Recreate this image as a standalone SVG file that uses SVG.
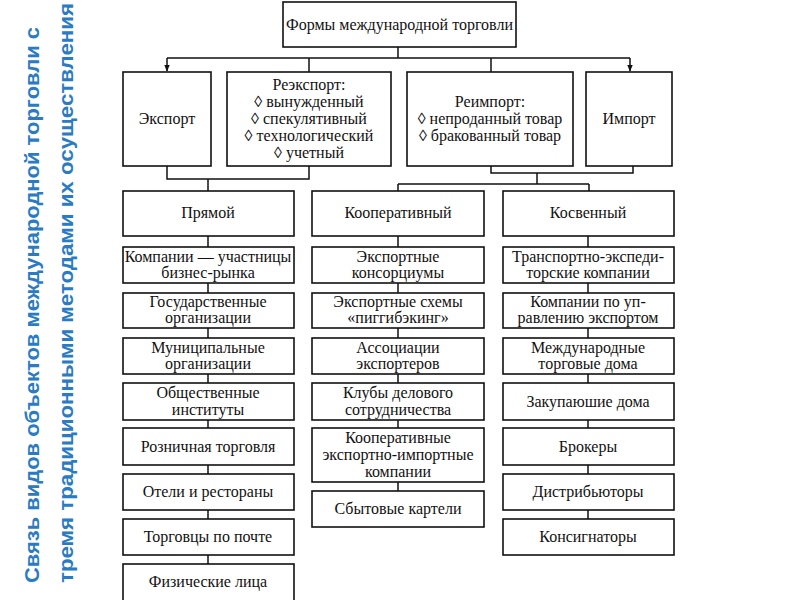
<svg xmlns="http://www.w3.org/2000/svg" width="800" height="600" viewBox="0 0 800 600">
<style>
.box{fill:#fff;stroke:#111;stroke-width:1.6}
.t{font-family:"Liberation Serif","Times New Roman",serif;font-size:16px;fill:#111;text-anchor:middle}
.c{fill:none;stroke:#111;stroke-width:1.5}
.title{font-family:"Liberation Sans",Arial,sans-serif;font-size:21px;font-weight:bold;fill:#2a7bc4}
</style>
<defs>
<marker id="arr" viewBox="0 0 10 10" refX="9" refY="5" markerWidth="7" markerHeight="7" orient="auto" markerUnits="userSpaceOnUse">
<path d="M0,1 L10,5 L0,9 z" fill="#111"/>
</marker>
</defs>
<rect width="800" height="600" fill="#fff"/>
<g id="title">
<text class="title" transform="translate(39,583) rotate(-90)" textLength="556" lengthAdjust="spacingAndGlyphs">Связь видов объектов международной торговли с</text>
<text class="title" transform="translate(73,583) rotate(-90)" textLength="580" lengthAdjust="spacingAndGlyphs">тремя традиционными методами их осуществления</text>
</g>
<g id="connectors">
<path class="c" d="M398,47 V58 M167,58 H630 M309,58 V72 M491,58 V72"/>
<path class="c" d="M167,58 V71" marker-end="url(#arr)"/>
<path class="c" d="M630,58 V71" marker-end="url(#arr)"/>
<path class="c" d="M167,166 V179 H309 V166 M208,179 V191"/>
<path class="c" d="M491,166 V173 H633 V166 M537,173 V184 M398,184 H589 M398,184 V191 M589,184 V191"/>
<path class="c" d="M208,236 V247 M208,283 V293 M208,328 V338 M208,374 V383 M208,420 V428 M208,465 V474 M208,510 V519 M208,555 V564"/>
<path class="c" d="M398,236 V247 M398,283 V293 M398,328 V338 M398,374 V383 M398,420 V428 M398,482 V491"/>
<path class="c" d="M588,236 V247 M588,283 V293 M588,328 V338 M588,374 V383 M588,420 V428 M588,465 V474 M588,510 V519"/>
</g>
<g id="forms"><rect class="box" x="283" y="2" width="233" height="45"/><text class="t" x="399.5" y="30">Формы международной торговли</text></g>
<g id="export"><rect class="box" x="123" y="72" width="88" height="94"/><text class="t" x="167" y="124">Экспорт</text></g>
<g id="reexport"><rect class="box" x="227" y="72" width="164" height="94"/>
<text class="t" x="309" y="90">Реэкспорт:</text>
<text class="t" x="309" y="107">◊ вынужденный</text>
<text class="t" x="309" y="124">◊ спекулятивный</text>
<text class="t" x="309" y="141">◊ технологический</text>
<text class="t" x="309" y="158">◊ учетный</text></g>
<g id="reimport"><rect class="box" x="407" y="72" width="166" height="94"/>
<text class="t" x="490" y="107">Реимпорт:</text>
<text class="t" x="490" y="124">◊ непроданный товар</text>
<text class="t" x="490" y="141">◊ бракованный товар</text></g>
<g id="import"><rect class="box" x="586" y="72" width="86" height="94"/><text class="t" x="629" y="124">Импорт</text></g>

<g id="direct"><rect class="box" x="123" y="191" width="171" height="45"/><text class="t" x="208" y="218">Прямой</text></g>
<g id="coop"><rect class="box" x="312" y="191" width="172" height="45"/><text class="t" x="398" y="218">Кооперативный</text></g>
<g id="indirect"><rect class="box" x="503" y="191" width="171" height="45"/><text class="t" x="588" y="218">Косвенный</text></g>

<g id="d1"><rect class="box" x="123" y="247" width="171" height="36"/><text class="t" x="208" y="262">Компании — участницы</text><text class="t" x="208" y="278">бизнес-рынка</text></g>
<g id="d2"><rect class="box" x="123" y="293" width="171" height="35"/><text class="t" x="208" y="307">Государственные</text><text class="t" x="208" y="323">организации</text></g>
<g id="d3"><rect class="box" x="123" y="338" width="171" height="36"/><text class="t" x="208" y="353">Муниципальные</text><text class="t" x="208" y="369">организации</text></g>
<g id="d4"><rect class="box" x="123" y="383" width="171" height="37"/><text class="t" x="208" y="398">Общественные</text><text class="t" x="208" y="415">институты</text></g>
<g id="d5"><rect class="box" x="123" y="428" width="171" height="37"/><text class="t" x="208" y="452">Розничная торговля</text></g>
<g id="d6"><rect class="box" x="123" y="474" width="171" height="36"/><text class="t" x="208" y="497">Отели и рестораны</text></g>
<g id="d7"><rect class="box" x="123" y="519" width="171" height="36"/><text class="t" x="208" y="542">Торговцы по почте</text></g>
<g id="d8"><rect class="box" x="123" y="564" width="171" height="45"/><text class="t" x="208" y="587">Физические лица</text></g>

<g id="c1"><rect class="box" x="312" y="247" width="172" height="36"/><text class="t" x="398" y="262">Экспортные</text><text class="t" x="398" y="278">консорциумы</text></g>
<g id="c2"><rect class="box" x="312" y="293" width="172" height="35"/><text class="t" x="398" y="307">Экспортные схемы</text><text class="t" x="398" y="323">«пиггибэкинг»</text></g>
<g id="c3"><rect class="box" x="312" y="338" width="172" height="36"/><text class="t" x="398" y="353">Ассоциации</text><text class="t" x="398" y="369">экспортеров</text></g>
<g id="c4"><rect class="box" x="312" y="383" width="172" height="37"/><text class="t" x="398" y="398">Клубы делового</text><text class="t" x="398" y="415">сотрудничества</text></g>
<g id="c5"><rect class="box" x="312" y="428" width="172" height="54"/><text class="t" x="398" y="443">Кооперативные</text><text class="t" x="398" y="460">экспортно-импортные</text><text class="t" x="398" y="477">компании</text></g>
<g id="c6"><rect class="box" x="312" y="491" width="172" height="36"/><text class="t" x="398" y="514">Сбытовые картели</text></g>

<g id="i1"><rect class="box" x="503" y="247" width="171" height="36"/><text class="t" x="588" y="262">Транспортно-экспеди-</text><text class="t" x="588" y="278">торские компании</text></g>
<g id="i2"><rect class="box" x="503" y="293" width="171" height="35"/><text class="t" x="588" y="307">Компании по уп-</text><text class="t" x="588" y="323">равлению экспортом</text></g>
<g id="i3"><rect class="box" x="503" y="338" width="171" height="36"/><text class="t" x="588" y="353">Международные</text><text class="t" x="588" y="369">торговые дома</text></g>
<g id="i4"><rect class="box" x="503" y="383" width="171" height="37"/><text class="t" x="588" y="407">Закупаюшие дома</text></g>
<g id="i5"><rect class="box" x="503" y="428" width="171" height="37"/><text class="t" x="588" y="452">Брокеры</text></g>
<g id="i6"><rect class="box" x="503" y="474" width="171" height="36"/><text class="t" x="588" y="497">Дистрибьюторы</text></g>
<g id="i7"><rect class="box" x="503" y="519" width="171" height="36"/><text class="t" x="588" y="542">Консигнаторы</text></g>
</svg>
